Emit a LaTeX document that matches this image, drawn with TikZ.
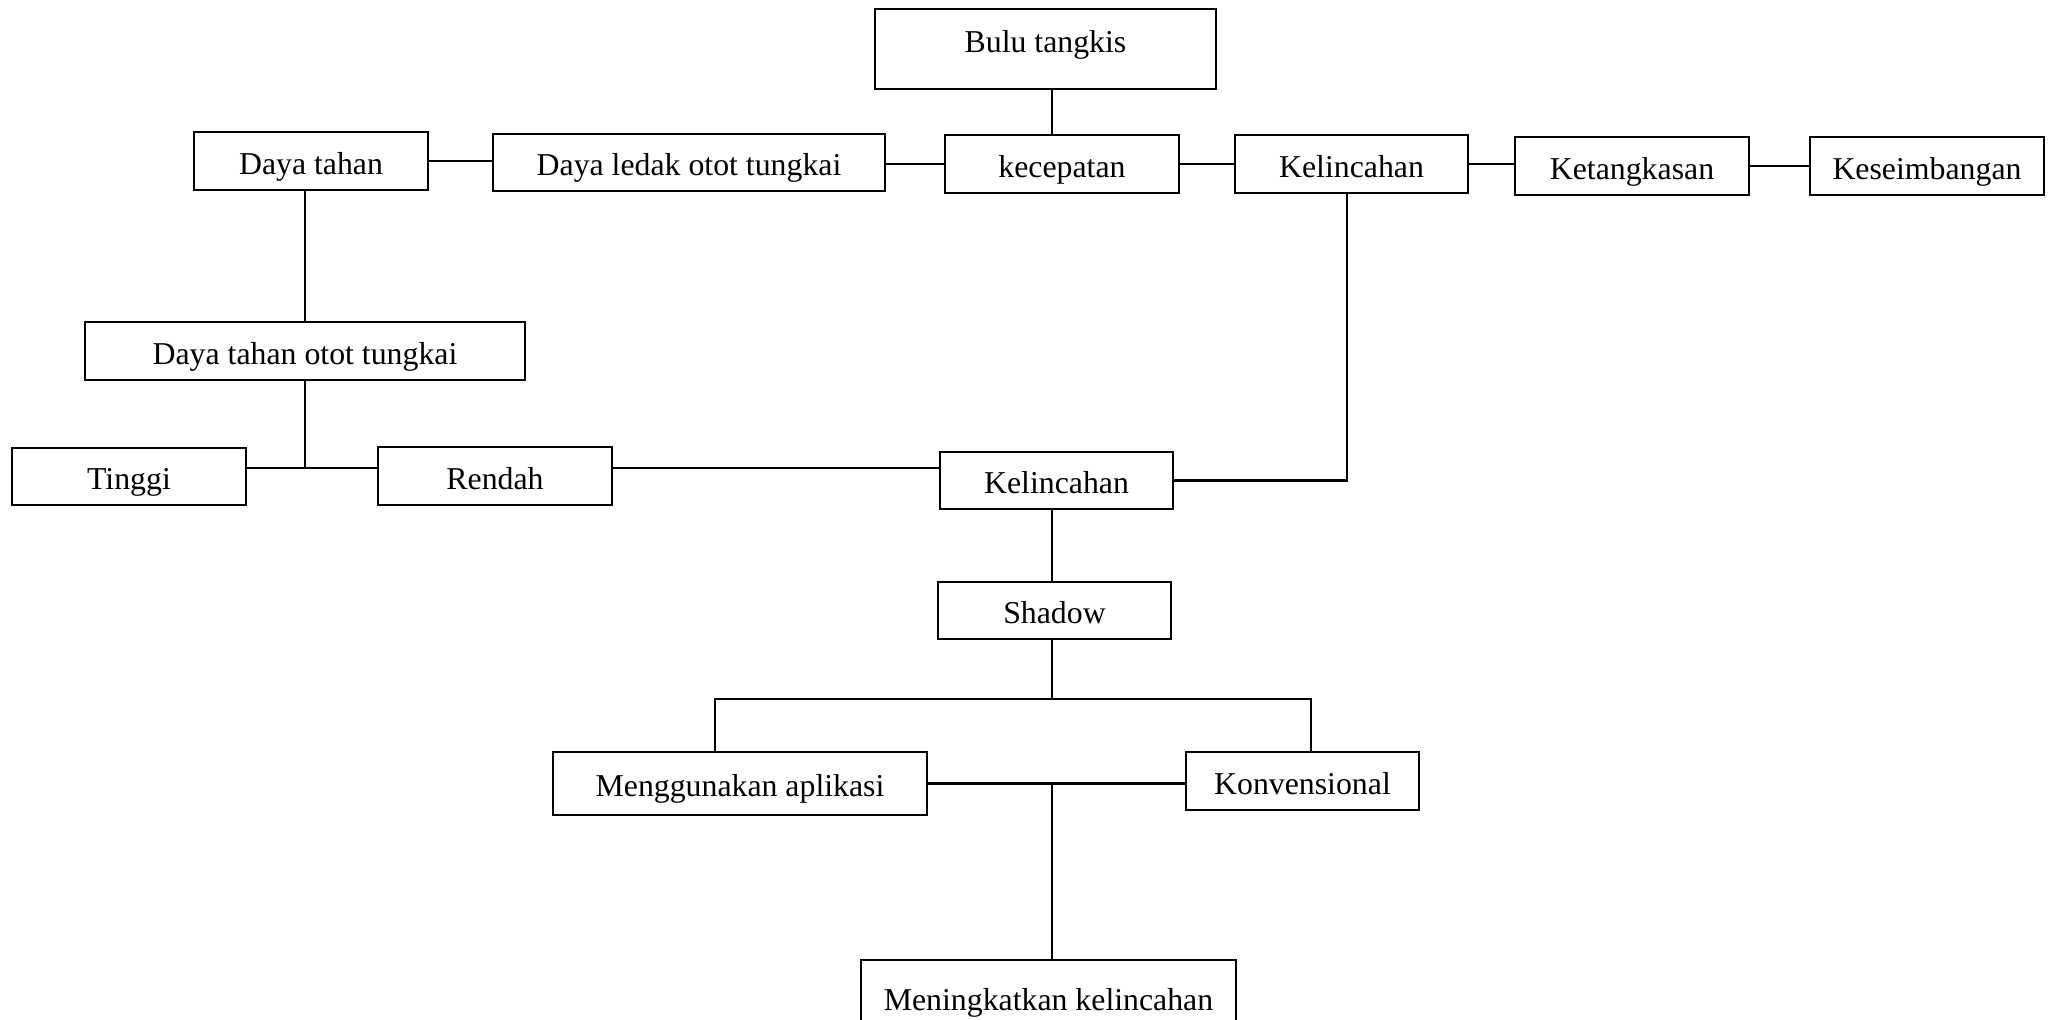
\documentclass[tikz,border=0pt]{standalone}
\usepackage{fontspec}
\setmainfont{Liberation Serif}

\begin{document}
\begin{tikzpicture}
        [x=0.5pt, y=-0.5pt,
         box/.style={draw=black, line width=1.4pt, inner sep=0pt, text height=13pt, text depth=0pt, font=\fontsize{15.9pt}{19pt}\selectfont},
         link/.style={draw=black, line width=1.1pt}]

        \clip (0,0) rectangle (2056,1019);

        \node[box, minimum width=341*0.5pt, minimum height=80*0.5pt, text depth=10pt] (bulu) at (1045.5,49) {Bulu tangkis};

        \foreach \id/\txt/\cx/\cy/\w/\h in {
            dtahan/Daya tahan/311/161/234/58,
            dledak/Daya ledak otot tungkai/689/162.5/392/57,
            kec/kecepatan/1062/164/234/58,
            kel/Kelincahan/1351.5/164/233/58,
            ket/Ketangkasan/1632/166/234/58,
            kes/Keseimbangan/1927/166/234/58,
            dtotot/Daya tahan otot tungkai/305/351/440/58,
            tinggi/Tinggi/129/476.5/234/57,
            rendah/Rendah/495/476/234/58,
            kel2/Kelincahan/1056.5/480.5/233/57,
            shadow/Shadow/1054.5/610.5/233/57,
            apl/Menggunakan aplikasi/740/783.5/374/63,
            konv/Konvensional/1302.5/781/233/58,
            men/Meningkatkan kelincahan/1048.5/997/375/74}
        \node[box, minimum width=\w*0.5pt, minimum height=\h*0.5pt] (\id) at (\cx,\cy) {\txt};

        \coordinate (spine) at (1052,0);
        \coordinate (kelx) at (1347,0);
        \coordinate (jt) at (305,468);
        \coordinate (barL) at (715,699);
        \coordinate (barR) at (1311,699);

        \draw[link] (bulu.south -| spine) -- (kec.north -| spine);
        \draw[link] (dtahan.east) -- (dtahan.east -| dledak.west);
        \draw[link] (kec.west -| dledak.east) -- (kec.west);
        \draw[link] (kec.east) -- (kec.east -| kel.west);
        \draw[link] (kel.east) -- (kel.east -| ket.west);
        \draw[link] (ket.east) -- (ket.east -| kes.west);

        \draw[link] (dtotot.north) -- (dtotot.north |- dtahan.south);
        \draw[link] (dtotot.south) -- (jt);
        \draw[link] (tinggi.east |- jt) -- (rendah.west |- jt);
        \draw[link] (rendah.east |- jt) -- (kel2.west |- jt);
        \draw[link] (kel.south -| kelx) |- (kel2.east);

        \draw[link] (kel2.south -| spine) -- (shadow.north -| spine);
        \draw[link] (shadow.south -| spine) -- (barL -| spine);
        \draw[link] (barL |- apl.north) -- (barL) -- (barR) -- (barR |- konv.north);
        \draw[link] (apl.east) -- (apl.east -| konv.west);
        \draw[link] (apl.east -| spine) -- (men.north -| spine);

    \end{tikzpicture}
\end{document}
